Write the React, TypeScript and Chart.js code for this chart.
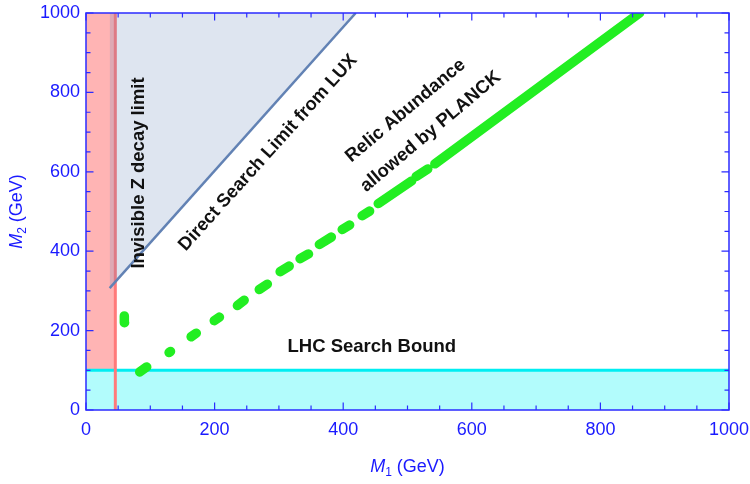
import React, { useEffect, useRef } from "react";
import { Chart, registerables } from "chart.js";

Chart.register(...registerables);

// ---- data ----
const MAJOR_TICKS = [0, 200, 400, 600, 800, 1000];
const MINOR_TICKS = [50, 100, 150, 250, 300, 350, 450, 500, 550, 650, 700, 750, 850, 900, 950];

const Z_LIMIT_X = 45.6; // invisible Z decay limit (GeV)
const LHC_BOUND_Y = 100; // LHC search bound (GeV)
const LUX_X = [36.8, 419.5];
const LUX_Y = [307, 1000];

// relic abundance band: dashes [x1, y1, x2, y2]
const RELIC_DASHES: number[][] = [
  [83.6, 95.8, 94.4, 108.4],
  [129.2, 144.8, 131.4, 147.6],
  [163.5, 184.5, 171.5, 193.5],
  [199.5, 225, 207.5, 234],
  [235.5, 263, 246, 276.5],
  [269.5, 303.5, 282, 317],
  [302, 348.5, 316, 362.5],
  [333, 381, 346, 393],
  [363, 417, 381.5, 435.5],
  [398.5, 454.5, 410, 466],
  [429.5, 489.5, 441, 501],
  [454.5, 520, 506.5, 577],
  [513.5, 588, 531.5, 607],
  [542.6, 620.1, 861, 1000],
];
const RELIC_SIDE_DASH = [60, 220, 59.6, 237];

const AXIS_BLUE = "#2b2bff";
const LABEL_BLUE = "#1a1aff";
const FONT = "'Liberation Sans', Arial, sans-serif";

const framePlugin = {
  id: "framePlugin",
  afterDatasetsDraw(chart: any) {
    const { ctx, chartArea: a, scales } = chart;
    const x = scales.x;
    const y = scales.y;
    ctx.save();
    // annotations
    ctx.fillStyle = "#111";
    ctx.font = `bold 18.5px ${FONT}`;
    ctx.textAlign = "center";
    ctx.textBaseline = "middle";
    const txt = (t: string, dx: number, dy: number, ang: number) => {
      ctx.save();
      ctx.translate(x.getPixelForValue(dx), y.getPixelForValue(dy));
      ctx.rotate((ang * Math.PI) / 180);
      ctx.fillText(t, 0, 0);
      ctx.restore();
    };
    txt("Invisible Z decay limit", 82, 597, -90);
    txt("Direct Search Limit from LUX", 283, 648, -48);
    txt("Relic Abundance", 497, 754, -40);
    txt("allowed by PLANCK", 536, 701, -40);
    txt("LHC Search Bound", 444.5, 159, 0);

    // frame
    ctx.strokeStyle = AXIS_BLUE;
    ctx.lineWidth = 1.5;
    ctx.strokeRect(a.left, a.top, a.right - a.left, a.bottom - a.top);
    ctx.lineWidth = 1.2;
    ctx.beginPath();
    const tick = (v: number, len: number) => {
      const px = x.getPixelForValue(v);
      const py = y.getPixelForValue(v);
      ctx.moveTo(px, a.bottom);
      ctx.lineTo(px, a.bottom - len);
      ctx.moveTo(px, a.top);
      ctx.lineTo(px, a.top + len);
      ctx.moveTo(a.left, py);
      ctx.lineTo(a.left + len, py);
      ctx.moveTo(a.right, py);
      ctx.lineTo(a.right - len, py);
    };
    MAJOR_TICKS.forEach((v) => tick(v, 7.5));
    MINOR_TICKS.forEach((v) => tick(v, 4.5));
    ctx.stroke();

    // axis titles
    ctx.fillStyle = LABEL_BLUE;
    ctx.textAlign = "left";
    ctx.textBaseline = "alphabetic";
    const title = (sub: string, cx: number, cy: number, rot: number) => {
      ctx.save();
      ctx.translate(cx, cy);
      ctx.rotate((rot * Math.PI) / 180);
      ctx.font = `italic 18px ${FONT}`;
      const wM = ctx.measureText("M").width;
      ctx.font = `12px ${FONT}`;
      const wS = ctx.measureText(sub).width;
      ctx.font = `18px ${FONT}`;
      const wR = ctx.measureText(" (GeV)").width;
      const total = wM + wS + wR;
      let sx = -total / 2;
      ctx.font = `italic 18px ${FONT}`;
      ctx.fillText("M", sx, 0);
      sx += wM;
      ctx.font = `12px ${FONT}`;
      ctx.fillText(sub, sx, 4);
      sx += wS;
      ctx.font = `18px ${FONT}`;
      ctx.fillText(" (GeV)", sx, 0);
      ctx.restore();
    };
    title("1", (a.left + a.right) / 2, 472, 0);
    title("2", 22, (a.top + a.bottom) / 2, -90);
    ctx.restore();
  },
};

export default function App() {
  const ref = useRef<HTMLCanvasElement | null>(null);
  useEffect(() => {
    document.body.style.margin = "0";
    const canvas = ref.current;
    if (!canvas) return;
    const relicData: any[] = [];
    RELIC_DASHES.forEach((d) => {
      relicData.push({ x: d[0], y: d[1] }, { x: d[2], y: d[3] }, { x: d[2], y: null });
    });
    const sideData = [
      { x: RELIC_SIDE_DASH[0], y: RELIC_SIDE_DASH[1] },
      { x: RELIC_SIDE_DASH[2], y: RELIC_SIDE_DASH[3] },
    ];
    const base = { pointRadius: 0, tension: 0, spanGaps: false };
    const relicStyle = {
      borderColor: "#22ee22",
      borderWidth: 9.5,
      borderCapStyle: "round",
      borderJoinStyle: "round",
      fill: false,
    };
    const tickFmt = (v: any) => String(v);
    const chart = new Chart(canvas, {
      type: "line",
      data: {
        datasets: [
          { ...base, ...relicStyle, label: "relic", data: relicData, order: 0 } as any,
          { ...base, ...relicStyle, label: "relic2", data: sideData, order: 0 } as any,
          {
            ...base,
            label: "lux",
            data: [
              { x: LUX_X[0], y: LUX_Y[0] },
              { x: LUX_X[1], y: LUX_Y[1] },
            ],
            borderColor: "#6282b4",
            borderWidth: 2.5,
            backgroundColor: "rgba(90,125,180,0.2)",
            fill: "end",
            order: 1,
          },
          {
            ...base,
            label: "zline",
            data: [
              { x: Z_LIMIT_X, y: 0 },
              { x: Z_LIMIT_X, y: 1000 },
            ],
            borderColor: "#ff7a7a",
            borderWidth: 3,
            fill: false,
            order: 2,
          },
          {
            ...base,
            label: "lhc",
            data: [
              { x: 0, y: LHC_BOUND_Y },
              { x: 1000, y: LHC_BOUND_Y },
            ],
            borderColor: "#00eef2",
            borderWidth: 3,
            backgroundColor: "#b2fcfc",
            fill: "start",
            order: 3,
          },
          {
            ...base,
            label: "zband",
            data: [
              { x: 0, y: 1000 },
              { x: Z_LIMIT_X, y: 1000 },
            ],
            borderWidth: 0,
            borderColor: "rgba(0,0,0,0)",
            backgroundColor: "#ffb4b4",
            fill: "start",
            order: 4,
          },
        ],
      },
      options: {
        animation: false,
        responsive: false,
        devicePixelRatio: 1,
        layout: { autoPadding: false, padding: { top: 13, right: 21, left: 0, bottom: 0 } },
        plugins: { legend: { display: false }, tooltip: { enabled: false } },
        scales: {
          x: {
            type: "linear",
            min: 0,
            max: 1000,
            afterFit: (s: any) => {
              s.height = 74;
              s.paddingLeft = 0;
              s.paddingRight = 0;
            },
            afterBuildTicks: (s: any) => {
              s.ticks = MAJOR_TICKS.map((v) => ({ value: v }));
            },
            grid: { display: false, drawTicks: false },
            border: { display: false },
            ticks: {
              color: LABEL_BLUE,
              font: { family: FONT, size: 18 },
              padding: 9,
              maxRotation: 0,
              callback: tickFmt,
            },
          },
          y: {
            type: "linear",
            min: 0,
            max: 1000,
            afterFit: (s: any) => {
              s.width = 86;
              s.paddingTop = 0;
              s.paddingBottom = 0;
            },
            afterBuildTicks: (s: any) => {
              s.ticks = MAJOR_TICKS.map((v) => ({ value: v }));
            },
            grid: { display: false, drawTicks: false },
            border: { display: false },
            ticks: {
              color: LABEL_BLUE,
              font: { family: FONT, size: 18 },
              padding: 6,
              callback: tickFmt,
            },
          },
        },
      },
      plugins: [framePlugin],
    });
    return () => chart.destroy();
  }, []);
  return (
    <div style={{ width: 750, height: 484, position: "relative" }}>
      <canvas ref={ref} width={750} height={484} />
    </div>
  );
}
